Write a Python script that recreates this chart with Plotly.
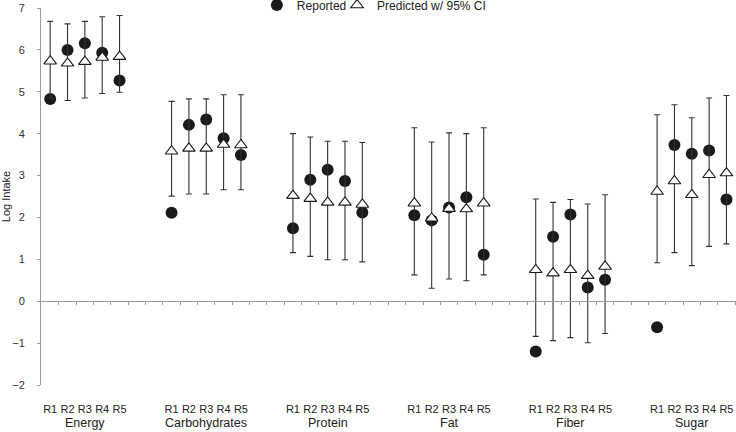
import plotly.graph_objects as go

# ---- data ----
groups = ["Energy", "Carbohydrates", "Protein", "Fat", "Fiber", "Sugar"]
rounds = ["R1", "R2", "R3", "R4", "R5"]

reported = [
    [4.83, 6.00, 6.16, 5.93, 5.27],   # Energy
    [2.11, 4.21, 4.34, 3.89, 3.49],   # Carbohydrates
    [1.74, 2.90, 3.14, 2.87, 2.12],   # Protein
    [2.05, 1.93, 2.24, 2.48, 1.11],   # Fat
    [-1.20, 1.54, 2.07, 0.33, 0.51],  # Fiber
    [-0.62, 3.73, 3.52, 3.60, 2.43],  # Sugar
]
predicted = [
    [5.73, 5.68, 5.72, 5.82, 5.84],
    [3.58, 3.65, 3.65, 3.74, 3.73],
    [2.52, 2.45, 2.36, 2.36, 2.31],
    [2.34, 1.98, 2.21, 2.20, 2.34],
    [0.75, 0.67, 0.75, 0.61, 0.83],
    [2.62, 2.87, 2.54, 3.02, 3.06],
]
ci_low = [
    [4.85, 4.79, 4.85, 4.96, 4.99],
    [2.51, 2.56, 2.56, 2.66, 2.66],
    [1.16, 1.07, 0.99, 0.99, 0.94],
    [0.63, 0.31, 0.53, 0.49, 0.63],
    [-0.84, -0.94, -0.87, -0.99, -0.77],
    [0.92, 1.16, 0.85, 1.31, 1.37],
]
ci_high = [
    [6.68, 6.62, 6.68, 6.79, 6.82],
    [4.77, 4.83, 4.83, 4.93, 4.93],
    [4.00, 3.92, 3.82, 3.82, 3.79],
    [4.14, 3.80, 4.02, 4.00, 4.14],
    [2.44, 2.36, 2.43, 2.32, 2.54],
    [4.45, 4.69, 4.38, 4.85, 4.91],
]
y_ticks = [-2, -1, 0, 1, 2, 3, 4, 5, 6, 7]

# ---- positions: 5 rounds per group + 2 empty slots between groups ----
slot_per_group = len(rounds) + 2
xs, tick_text, rep, pred, up, dn = [], [], [], [], [], []
for g in range(len(groups)):
    for i in range(len(rounds)):
        xs.append(g * slot_per_group + i)
        tick_text.append(rounds[i])
        rep.append(reported[g][i])
        pred.append(predicted[g][i])
        up.append(ci_high[g][i] - predicted[g][i])
        dn.append(predicted[g][i] - ci_low[g][i])

n_slots = len(groups) * slot_per_group - 2
x_range = [-0.53, n_slots - 1 + 0.55]
y_range = [-2, 7]
zero_pos = (0 - y_range[0]) / (y_range[1] - y_range[0])
minor_ticks = [k + 0.5 for k in range(n_slots)]

font_family = "Liberation Sans, Arial, sans-serif"
ink = "#1a1a1a"
axis_gray = "#9a9a9a"

fig = go.Figure()
fig.add_trace(go.Scatter(
    x=xs, y=rep, mode="markers", name="Reported", legend="legend",
    marker=dict(symbol="circle", size=12, color=ink, line=dict(width=0)),
    hoverinfo="skip",
))
fig.add_trace(go.Scatter(
    x=xs, y=pred, mode="markers", name="Predicted w/ 95% CI", legend="legend2",
    marker=dict(symbol="triangle-up", size=11, color="white",
                line=dict(color=ink, width=1.1)),
    error_y=dict(type="data", symmetric=False, array=up, arrayminus=dn,
                 color="#333333", thickness=1.1, width=3),
    hoverinfo="skip",
))
# carrier trace for the zero-line axis
fig.add_trace(go.Scatter(x=[None], y=[None], xaxis="x2", showlegend=False,
                         hoverinfo="skip"))

# group labels
for g, name in enumerate(groups):
    fig.add_annotation(
        x=g * slot_per_group + (len(rounds) - 1) / 2, xref="x",
        y=0, yref="paper", yshift=-38, yanchor="middle",
        text=name, showarrow=False,
        font=dict(family=font_family, size=12.5, color="#222222"),
    )

legend_common = dict(orientation="h", xref="container", xanchor="left",
                     y=1 - 5 / 432, yref="container", yanchor="middle",
                     font=dict(size=12, color="#222222"),
                     bgcolor="rgba(0,0,0,0)", itemwidth=30)

fig.update_layout(
    width=736, height=432,
    margin=dict(l=41, r=0, t=8, b=47, autoexpand=False),
    paper_bgcolor="white", plot_bgcolor="white",
    font=dict(family=font_family, size=11, color="#333333"),
    showlegend=True,
    legend=dict(x=0.349, **legend_common),
    legend2=dict(x=0.458, **legend_common),
    xaxis=dict(range=x_range, showgrid=False, zeroline=False, showline=False,
               tickmode="array", tickvals=xs, ticktext=tick_text,
               ticks="", ticklabelstandoff=16, automargin=False,
               tickfont=dict(size=11, color="#222222")),
    xaxis2=dict(range=x_range, overlaying="x", anchor="free",
                position=zero_pos, side="bottom", automargin=False,
                showgrid=False, zeroline=False, showline=True,
                linecolor=axis_gray, linewidth=1,
                tickmode="array", tickvals=minor_ticks, ticks="outside",
                ticklen=3, tickcolor=axis_gray, tickwidth=1,
                showticklabels=False),
    yaxis=dict(range=y_range, showgrid=False, zeroline=False, showline=True,
               linecolor=axis_gray, linewidth=1, automargin=False,
               tickmode="array", tickvals=y_ticks, ticks="outside",
               ticklen=3, tickcolor=axis_gray, ticklabelstandoff=10,
               ticklabeloverflow="allow",
               tickfont=dict(size=11, color="#333333"),
               title=dict(text="Log Intake", standoff=4,
                          font=dict(size=11, color="#222222"))),
)

fig.write_html("out.html", config={"displayModeBar": False},
               post_script="document.body.style.margin='0';")
